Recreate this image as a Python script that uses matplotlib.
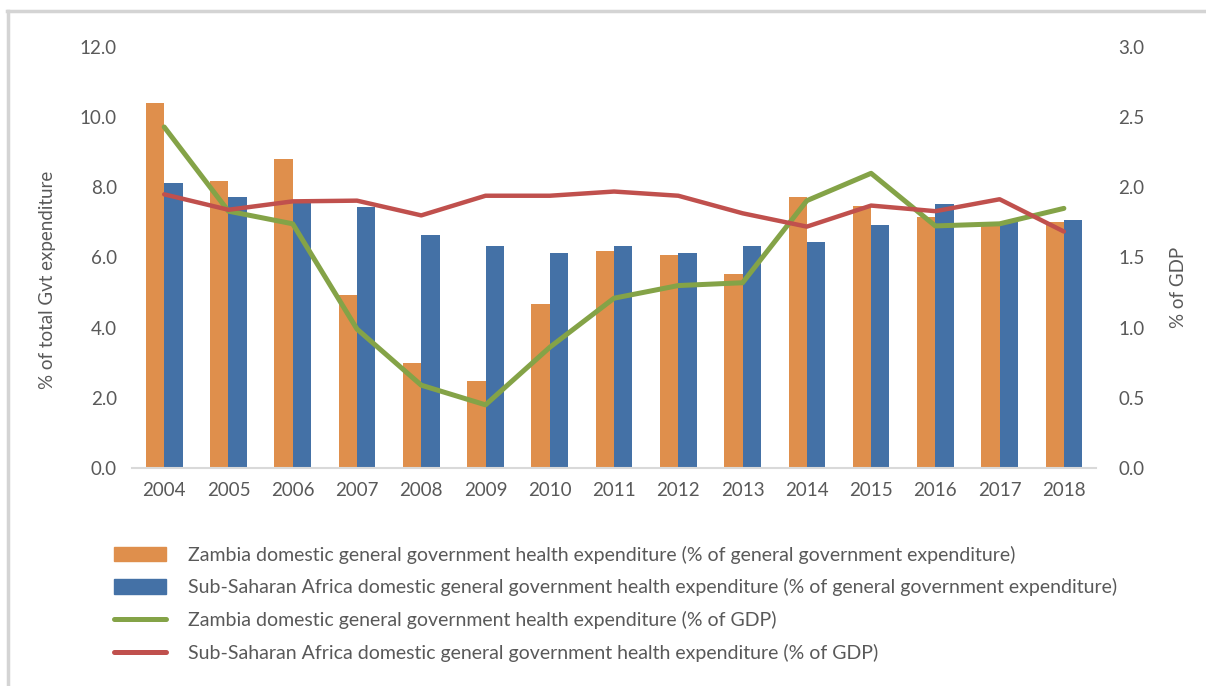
import matplotlib.pyplot as plt
import numpy as np
from matplotlib.lines import Line2D

years = ['2004', '2005', '2006', '2007', '2008', '2009', '2010', '2011',
         '2012', '2013', '2014', '2015', '2016', '2017', '2018']

# % of general government expenditure (left axis)
zambia_gge = [10.41, 8.19, 8.80, 4.93, 3.00, 2.48, 4.68, 6.19,
              6.07, 5.54, 7.73, 7.47, 7.16, 6.98, 7.02]
ssa_gge = [8.12, 7.73, 7.59, 7.44, 6.63, 6.34, 6.13, 6.34,
           6.13, 6.34, 6.43, 6.93, 7.53, 7.02, 7.07]

# % of GDP (right axis)
zambia_gdp = [2.43, 1.83, 1.74, 0.99, 0.59, 0.45, 0.86, 1.21,
              1.30, 1.32, 1.905, 2.10, 1.725, 1.74, 1.85]
ssa_gdp = [1.95, 1.84, 1.90, 1.905, 1.80, 1.94, 1.94, 1.97,
           1.94, 1.815, 1.72, 1.87, 1.83, 1.915, 1.685]

labels = ['Zambia domestic general government health expenditure (% of general government expenditure)',
          'Sub-Saharan Africa domestic general government health expenditure (% of general government expenditure)',
          'Zambia domestic general government health expenditure (% of GDP)',
          'Sub-Saharan Africa domestic general government health expenditure (% of GDP)']

orange = '#DF8F4C'
blue = '#4471A6'
green = '#84A347'
red = '#C0504D'
txt = '#595959'

plt.rcParams['font.family'] = ['Lato', 'DejaVu Sans']

fig = plt.figure(figsize=(12.06, 6.86), dpi=100)
ax = fig.add_axes([0.1095, 0.3178, 0.7993, 0.6137])
ax2 = ax.twinx()

x = np.arange(len(years))
w = 0.285
ax.bar(x - w/2, zambia_gge, w, color=orange, zorder=2)
ax.bar(x + w/2, ssa_gge, w, color=blue, zorder=2)

ax2.plot(x, zambia_gdp, color=green, lw=3.6, solid_capstyle='round', zorder=3)
ax2.plot(x, ssa_gdp, color=red, lw=3.2, solid_capstyle='round', zorder=3)

ax.set_xlim(-0.5, len(years) - 0.5)
ax.set_ylim(0, 12)
ax2.set_ylim(0, 3)
ax.set_yticks(np.arange(0, 12.1, 2))
ax.set_yticklabels(['%.1f' % v for v in np.arange(0, 12.1, 2)])
ax2.set_yticks(np.arange(0, 3.01, 0.5))
ax2.set_yticklabels(['%.1f' % v for v in np.arange(0, 3.01, 0.5)])
ax.set_xticks(x)
ax.set_xticklabels(years)

for a in (ax, ax2):
    for s in a.spines.values():
        s.set_visible(False)
    a.tick_params(length=0, labelsize=13.5, colors=txt)
ax.spines['bottom'].set_visible(True)
ax.spines['bottom'].set_color('#D9D9D9')
ax.spines['bottom'].set_linewidth(1.5)
ax.tick_params(axis='x', pad=10)
ax.tick_params(axis='y', pad=11)
ax2.tick_params(axis='y', pad=16)

ax.set_ylabel('% of total Gvt expenditure', fontsize=13.5, color=txt)
ax.yaxis.set_label_coords(-0.079, 0.448)
ax2.set_ylabel('% of GDP', fontsize=13.5, color=txt)
ax2.yaxis.set_label_coords(1.077, 0.43)

handles = [plt.Rectangle((0, 0), 1, 1, color=orange),
           plt.Rectangle((0, 0), 1, 1, color=blue),
           Line2D([], [], color=green, lw=3.6, solid_capstyle='round'),
           Line2D([], [], color=red, lw=3.6, solid_capstyle='round')]
leg = fig.legend(handles, labels, loc='upper left', bbox_to_anchor=(0.080, 0.230),
                 frameon=False, fontsize=14, handlelength=2.7, handleheight=0.8,
                 labelspacing=0.75, handletextpad=1.1)
for t in leg.get_texts():
    t.set_color(txt)

# chart frame lines
fig.add_artist(Line2D([0.006, 1.0], [0.984, 0.984], color='#D4D4D4', lw=2.5))
fig.add_artist(Line2D([0.0065, 0.0065], [0.0, 0.984], color='#D4D4D4', lw=2.5))

fig.savefig('out.png', dpi=100)
